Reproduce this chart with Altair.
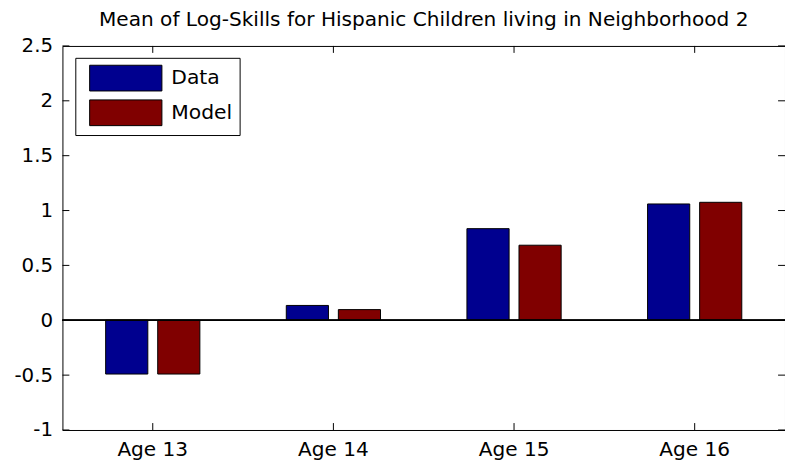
import altair as alt
import pandas as pd

ages = ["Age 13", "Age 14", "Age 15", "Age 16"]
data_vals = [-0.49, 0.135, 0.835, 1.06]
model_vals = [-0.49, 0.097, 0.684, 1.075]
series = ["Data", "Model"]
colors = ["#00008f", "#800000"]
y_ticks = [-1, -0.5, 0, 0.5, 1, 1.5, 2, 2.5]
title = "Mean of Log-Skills for Hispanic Children living in Neighborhood 2"

W, H = 730, 388
FONT = "DejaVu Sans"

rows = []
for a, d, m in zip(ages, data_vals, model_vals):
    rows.append({"age": a, "series": "Data", "value": d})
    rows.append({"age": a, "series": "Model", "value": m})
df = pd.DataFrame(rows)
tick_df = pd.DataFrame({"t": y_ticks})
age_df = pd.DataFrame({"age": ages})

xscale = alt.Scale(domain=ages, paddingInner=0, paddingOuter=0)
yscale = alt.Scale(domain=[-1, 2.5], nice=False, zero=False)

bars = alt.Chart(df).mark_bar(stroke="black", strokeWidth=1).encode(
    x=alt.X("age:N", scale=xscale, sort=ages,
            axis=alt.Axis(title=None, labelAngle=0, ticks=False, domain=False,
                          labelFont=FONT, labelFontSize=20.3, labelColor="black",
                          labelPadding=10)),
    xOffset=alt.XOffset("series:N", sort=series,
                        scale=alt.Scale(paddingInner=0.19, paddingOuter=0.83)),
    y=alt.Y("value:Q", scale=yscale,
            axis=alt.Axis(title=None, values=y_ticks, ticks=False, domain=False,
                          grid=False, labelExpr="'' + datum.value",
                          labelFont=FONT, labelFontSize=20, labelColor="black",
                          labelPadding=10)),
    color=alt.Color("series:N", sort=series,
                    scale=alt.Scale(domain=series, range=colors),
                    legend=alt.Legend(
                        title=None, orient="none", legendX=13, legendY=12,
                        direction="vertical",
                        symbolType="M-2.808,-1L2.808,-1L2.808,1L-2.808,1Z",
                        symbolSize=676, symbolStrokeColor="black",
                        symbolStrokeWidth=1, symbolOpacity=1,
                        labelFont=FONT, labelFontSize=20.5, labelColor="black",
                        labelOffset=32.5, rowPadding=4, padding=7,
                        symbolOffset=30.5,
                        strokeColor="black", fillColor="white",
                        labelLimit=300)),
)

zero = alt.Chart(df).mark_rule(color="black", strokeWidth=1).encode(
    y=alt.datum(0)
)

lt = alt.Chart(tick_df).mark_rule(color="black", strokeWidth=1).encode(
    y=alt.Y("t:Q", scale=yscale), x=alt.value(0), x2=alt.value(7))
rt = alt.Chart(tick_df).mark_rule(color="black", strokeWidth=1).encode(
    y=alt.Y("t:Q", scale=yscale), x=alt.value(W - 7), x2=alt.value(W))
bt = alt.Chart(age_df).mark_rule(color="black", strokeWidth=1).encode(
    x=alt.X("age:N", scale=xscale, sort=ages), y=alt.value(H), y2=alt.value(H - 7))
tt = alt.Chart(age_df).mark_rule(color="black", strokeWidth=1).encode(
    x=alt.X("age:N", scale=xscale, sort=ages), y=alt.value(0), y2=alt.value(7))

chart = alt.layer(bars, zero, lt, rt, bt, tt).properties(
    width=W, height=H,
    title=alt.TitleParams(title, font=FONT, fontSize=20.3, fontWeight="normal",
                          color="black", anchor="middle", offset=6),
    autosize=alt.AutoSizeParams(type="none"),
    padding={"left": 55, "top": 36, "right": 0, "bottom": 30},
).configure(
    background="white",
    view=alt.ViewConfig(stroke="black", strokeWidth=1),
)

chart.save("out.html", embed_options={"renderer": "svg", "actions": False})
